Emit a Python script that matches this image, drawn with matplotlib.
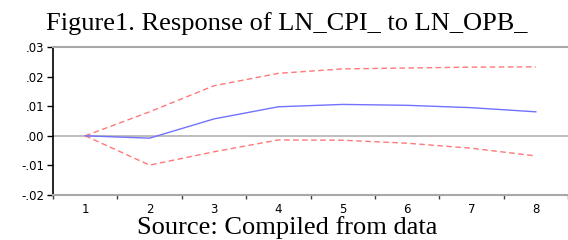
import matplotlib
matplotlib.use("Agg")
import matplotlib.pyplot as plt
import numpy as np

periods = [1, 2, 3, 4, 5, 6, 7, 8]
response = [0.0, -0.0008, 0.0057, 0.0098, 0.0106, 0.0103, 0.0095, 0.0081]
upper = [0.0, 0.0081, 0.0169, 0.0211, 0.0226, 0.0229, 0.0232, 0.0233]
lower = [0.0, -0.0099, -0.0054, -0.0014, -0.0015, -0.0025, -0.0042, -0.0068]
yticks = [-0.02, -0.01, 0.0, 0.01, 0.02, 0.03]
ytick_labels = ["-.02", "-.01", ".00", ".01", ".02", ".03"]
title = "Figure1. Response of LN_CPI_ to LN_OPB_"
source = "Source: Compiled from data"

fig = plt.figure(figsize=(5.68, 2.4), dpi=100)
ax = fig.add_axes([53/568, 1-195/240, 1-53/568, (195-47)/240])

ax.axhline(0, color="#b0b0b0", lw=1.2, zorder=1)
ax.plot(periods, upper, color="#ff7878", lw=1.0, ls=(0, (4, 2.5)), zorder=3)
ax.plot(periods, lower, color="#ff7878", lw=1.0, ls=(0, (4, 2.5)), zorder=3)
ax.plot(periods, response, color="#7272ff", lw=1.0, zorder=4)

ax.set_xlim(0.5, 8.5)
ax.set_ylim(-0.02, 0.03)
ax.set_xticks(periods)
ax.set_xticklabels([str(p) for p in periods])
ax.set_xticks(np.arange(0.5, 9.0, 1.0), minor=True)
ax.set_yticks(yticks)
ax.set_yticklabels(ytick_labels)

for s in ["top", "bottom"]:
    ax.spines[s].set_color("#a8a8a8")
    ax.spines[s].set_linewidth(1.5)
ax.spines["right"].set_visible(False)
ax.spines["left"].set_color("black")
ax.spines["left"].set_linewidth(1.2)

ax.tick_params(axis="x", which="major", length=0, pad=6, labelsize=8.5)
ax.tick_params(axis="x", which="minor", length=3, width=1, color="#404040", direction="out")
ax.tick_params(axis="y", which="major", length=4, width=1, direction="out", labelsize=8.5, pad=2)
for lab in ax.get_xticklabels() + ax.get_yticklabels():
    lab.set_family("DejaVu Sans")

fig.text(287/568, 1-24/240, title, ha="center", va="center", family="Liberation Serif", fontsize=19)
fig.text(287/568, 1-228/240, source, ha="center", va="center", family="Liberation Serif", fontsize=19)

fig.savefig("out.png", dpi=100)
